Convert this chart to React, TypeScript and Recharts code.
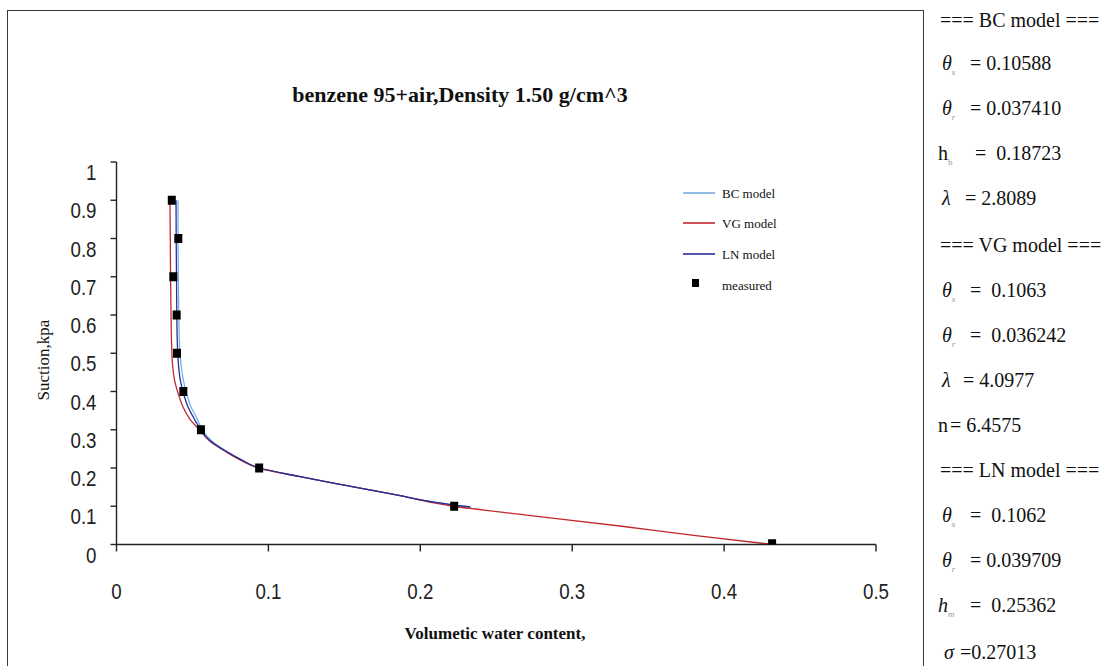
import React from 'react';
import { ComposedChart, Line, Scatter, XAxis, YAxis, Legend } from 'recharts';

const titleText = 'benzene 95+air,Density 1.50 g/cm^3';
const xLabel = 'Volumetic water content,';
const yLabel = 'Suction,kpa';

const xTicks = [0, 0.1, 0.2, 0.3, 0.4, 0.5];
const yTicks = [0, 0.1, 0.2, 0.3, 0.4, 0.5, 0.6, 0.7, 0.8, 0.9, 1];

// measured points (water content, suction)
const measuredTheta = [0.4316, 0.2223, 0.0939, 0.0556, 0.044, 0.0398, 0.0396, 0.0374, 0.0407, 0.0364];
const measuredSuction = [0.002, 0.1, 0.2, 0.3, 0.4, 0.5, 0.6, 0.7, 0.8, 0.9];

// BC model curve (bottom to top)
const bcTheta = [0.233, 0.21, 0.185, 0.15, 0.12, 0.094, 0.082, 0.072, 0.063, 0.0565, 0.053, 0.049, 0.0465, 0.044, 0.0425, 0.0415, 0.041, 0.0407, 0.0405, 0.0405];
const bcSuction = [0.098, 0.11, 0.129, 0.155, 0.178, 0.2, 0.222, 0.245, 0.27, 0.3, 0.33, 0.36, 0.39, 0.43, 0.47, 0.52, 0.6, 0.7, 0.8, 0.9];

// VG model curve
const vgTheta = [0.432, 0.38, 0.33, 0.27, 0.2223, 0.21, 0.185, 0.15, 0.12, 0.0935, 0.081, 0.071, 0.0615, 0.0545, 0.048, 0.0437, 0.041, 0.0382, 0.0369, 0.0363, 0.0359, 0.0356, 0.0354, 0.0352];
const vgSuction = [0, 0.024, 0.049, 0.077, 0.1, 0.108, 0.129, 0.155, 0.178, 0.2, 0.222, 0.245, 0.27, 0.3, 0.33, 0.36, 0.39, 0.43, 0.47, 0.52, 0.6, 0.7, 0.8, 0.897];

// LN model curve
const lnTheta = [0.233, 0.21, 0.185, 0.15, 0.12, 0.094, 0.082, 0.0715, 0.062, 0.0555, 0.051, 0.047, 0.0445, 0.042, 0.0408, 0.0401, 0.0397, 0.0395, 0.0393, 0.0392];
const lnSuction = [0.098, 0.11, 0.129, 0.155, 0.178, 0.2, 0.222, 0.245, 0.27, 0.3, 0.33, 0.36, 0.39, 0.43, 0.47, 0.52, 0.6, 0.7, 0.8, 0.9];

const seriesNames = ['BC model', 'VG model', 'LN model', 'measured'];
const seriesColors = ['#79aee3', '#c1272d', '#25309a', '#000000'];

// right-hand parameter panel
const panelSymbols = ['', 'θ', 'θ', 'h', 'λ', '', 'θ', 'θ', 'λ', 'n', '', 'θ', 'θ', 'h', 'σ'];
const panelItalic = [false, true, true, false, true, false, true, true, true, false, false, true, true, true, true];
const panelSubs = ['', 's', 'r', 'b', '', '', 's', 'r', '', '', '', 's', 'r', 'm', ''];
const panelRest = ['=== BC model ===', '= 0.10588', '= 0.037410', '=  0.18723', '= 2.8089', '=== VG model ===', '=  0.1063', '=  0.036242', '= 4.0977', '= 6.4575', '=== LN model ===', '=  0.1062', '= 0.039709', '=  0.25362', '=0.27013'];

const zip = (xs: number[], ys: number[]) => xs.map((x, i) => ({ x, y: ys[i] }));

const bcData = zip(bcTheta, bcSuction);
const vgData = zip(vgTheta, vgSuction);
const lnData = zip(lnTheta, lnSuction);
const measuredData = zip(measuredTheta, measuredSuction);

const panelTops = [20, 63, 108, 153, 198, 245, 290, 335, 380, 425, 470, 515, 560, 605, 652];
const panelSymLeft = [940, 942, 942, 938, 942, 940, 942, 942, 942, 938, 940, 942, 942, 938, 944];
const panelRestLeft = [940, 970, 970, 975, 965, 940, 970, 970, 963, 950, 940, 970, 970, 970, 960];

const XTick = (p: any) => (
  <text
    transform={`translate(${p.x},${p.y + 47}) scale(0.85,1)`}
    textAnchor="middle"
    fontFamily="'Liberation Sans', Arial, sans-serif"
    fontSize={22}
    fill="#222"
  >
    {String(p.payload.value)}
  </text>
);

const YTick = (p: any) => (
  <text
    transform={`translate(${p.x - 14},${p.y + 18}) scale(0.85,1)`}
    textAnchor="end"
    fontFamily="'Liberation Sans', Arial, sans-serif"
    fontSize={22}
    fill="#222"
  >
    {String(p.payload.value)}
  </text>
);

const Square = (p: any) => (
  <rect x={p.cx - 4} y={p.cy - 4.5} width={8} height={9} fill="#000" />
);

const LegendContent = () => {
  const rows = [15, 45, 76, 107];
  return (
    <svg width={160} height={125} style={{ overflow: 'visible' }}>
      {seriesNames.map((n, i) => (
        <g key={n}>
          {i < 3 ? (
            <line x1={8} x2={40} y1={rows[i]} y2={rows[i]} stroke={seriesColors[i]} strokeWidth={1.6} />
          ) : (
            <rect x={17} y={rows[i] - 6} width={7} height={8} fill="#000" />
          )}
          <text x={47} y={rows[i] + 4.5} fontFamily="'Liberation Serif', 'Times New Roman', serif" fontSize={13} fill="#111">
            {n}
          </text>
        </g>
      ))}
    </svg>
  );
};

export default function App() {
  const serif = "'Liberation Serif', 'Times New Roman', serif";
  return (
    <div style={{ position: 'absolute', left: 0, top: 0, width: 1105, height: 666, overflow: 'hidden', background: '#fff' }}>
      <div style={{ position: 'absolute', left: 7, top: 10, width: 917, height: 700, border: '1.5px solid #3a3a3a', boxSizing: 'border-box' }} />
      <div style={{ position: 'absolute', left: 0, top: 0 }}>
        <ComposedChart
          width={920}
          height={666}
          margin={{ top: 162, right: 44, bottom: 61.5, left: 56.5 }}
        >
          <XAxis
            type="number"
            dataKey="x"
            scale="linear"
            domain={[0, 0.5]}
            ticks={xTicks}
            interval={0}
            allowDataOverflow
            height={60}
            tickSize={7}
            tickMargin={0}
            tick={XTick}
            axisLine={{ stroke: '#222', strokeWidth: 1.4 }}
            tickLine={{ stroke: '#222', strokeWidth: 1.4 }}
          />
          <YAxis
            type="number"
            dataKey="y"
            scale="linear"
            domain={[0, 1]}
            ticks={yTicks}
            interval={0}
            allowDataOverflow
            width={60}
            tickSize={6}
            tickMargin={0}
            tick={YTick}
            axisLine={{ stroke: '#222', strokeWidth: 1.4 }}
            tickLine={{ stroke: '#222', strokeWidth: 1.4 }}
          />
          <Legend
            layout="horizontal"
            verticalAlign="middle"
            align="center"
            wrapperStyle={{ left: 675, top: 178, width: 160, height: 125 }}
            content={LegendContent}
          />
          <Line data={bcData} dataKey="y" name="BC model" type="monotoneY" stroke={seriesColors[0]} strokeWidth={1.3} dot={false} isAnimationActive={false} />
          <Line data={vgData} dataKey="y" name="VG model" type="monotoneY" stroke={seriesColors[1]} strokeWidth={1.3} dot={false} isAnimationActive={false} />
          <Line data={lnData} dataKey="y" name="LN model" type="monotoneY" stroke={seriesColors[2]} strokeWidth={1.3} dot={false} isAnimationActive={false} />
          <Scatter data={measuredData} dataKey="y" name="measured" fill="#000" shape={Square} isAnimationActive={false} />
        </ComposedChart>
      </div>
      <div style={{ position: 'absolute', left: 460, top: 84, transform: 'translateX(-50%)', whiteSpace: 'nowrap', fontFamily: serif, fontWeight: 'bold', fontSize: 22, color: '#111', lineHeight: '22px' }}>
        {titleText}
      </div>
      <div style={{ position: 'absolute', left: 495, top: 625, transform: 'translateX(-50%)', whiteSpace: 'nowrap', fontFamily: serif, fontWeight: 'bold', fontSize: 17, color: '#111', lineHeight: '18px' }}>
        {xLabel}
      </div>
      <div style={{ position: 'absolute', left: 43, top: 360, transform: 'translate(-50%,-50%) rotate(-90deg)', whiteSpace: 'nowrap', fontFamily: serif, fontSize: 17, color: '#111', lineHeight: '17px' }}>
        {yLabel}
      </div>
      {panelRest.map((r, i) => (
        <React.Fragment key={i}>
          {panelSymbols[i] && (
            <div style={{ position: 'absolute', left: panelSymLeft[i], top: panelTops[i] - 12, fontFamily: serif, fontSize: 20, lineHeight: '24px', color: '#111', whiteSpace: 'pre', fontStyle: panelItalic[i] ? 'italic' : 'normal' }}>
              {panelSymbols[i]}
              <span style={{ fontSize: 9, color: '#999', verticalAlign: 'sub' }}>{panelSubs[i]}</span>
            </div>
          )}
          <div style={{ position: 'absolute', left: panelRestLeft[i], top: panelTops[i] - 12, fontFamily: serif, fontSize: 20, lineHeight: '24px', color: '#111', whiteSpace: 'pre' }}>
            {r}
          </div>
        </React.Fragment>
      ))}
    </div>
  );
}
